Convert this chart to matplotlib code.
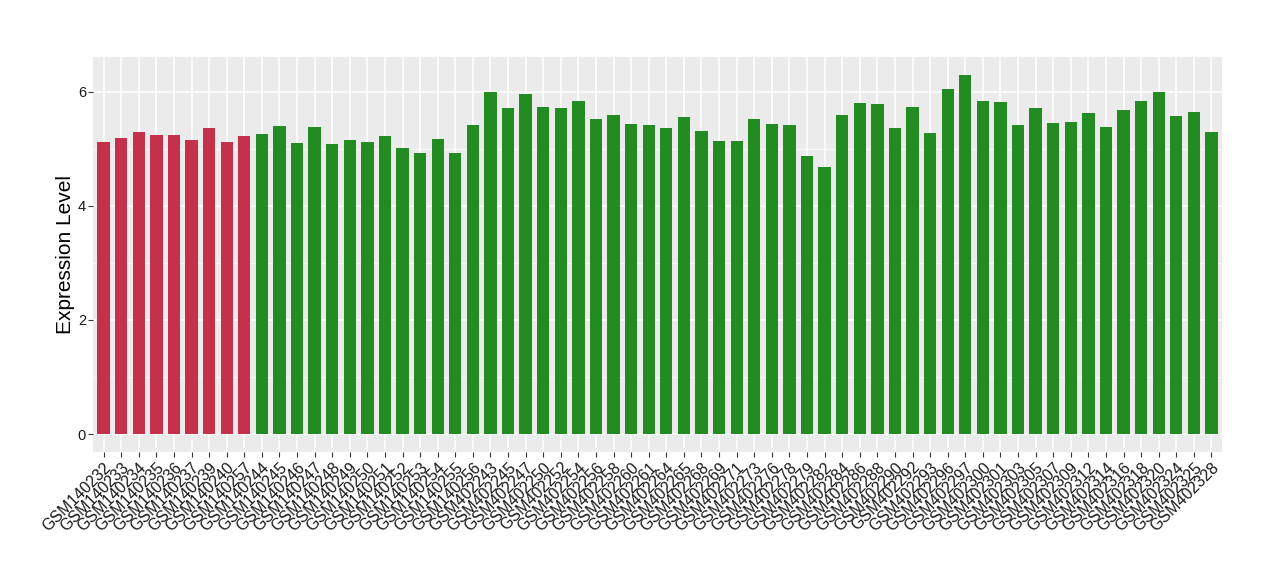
import matplotlib
matplotlib.use("Agg")
import matplotlib.pyplot as plt
from matplotlib.ticker import MultipleLocator

# samples (first 9 are one group, the rest another)
samples = ["GSM140232", "GSM140233", "GSM140234", "GSM140235", "GSM140236",
           "GSM140237", "GSM140239", "GSM140240", "GSM140257",
           "GSM140244", "GSM140245", "GSM140246", "GSM140247", "GSM140248",
           "GSM140249", "GSM140250", "GSM140251", "GSM140252", "GSM140253",
           "GSM140254", "GSM140255", "GSM140256",
           "GSM402243", "GSM402245", "GSM402247", "GSM402250", "GSM402252",
           "GSM402254", "GSM402256", "GSM402258", "GSM402260", "GSM402261",
           "GSM402264", "GSM402265", "GSM402268", "GSM402269", "GSM402271",
           "GSM402273", "GSM402276", "GSM402278", "GSM402279", "GSM402282",
           "GSM402284", "GSM402286", "GSM402288", "GSM402290", "GSM402292",
           "GSM402293", "GSM402296", "GSM402297", "GSM402300", "GSM402301",
           "GSM402303", "GSM402305", "GSM402307", "GSM402309", "GSM402312",
           "GSM402314", "GSM402316", "GSM402318", "GSM402320", "GSM402324",
           "GSM402325", "GSM402328"]

expression = [5.11, 5.18, 5.29, 5.23, 5.23, 5.15, 5.36, 5.11, 5.22,
              5.25, 5.40, 5.09, 5.37, 5.08, 5.15, 5.11, 5.22, 5.01, 4.92,
              5.17, 4.92, 5.41,
              5.99, 5.71, 5.96, 5.73, 5.71, 5.84, 5.52, 5.59, 5.43, 5.41,
              5.36, 5.56, 5.31, 5.13, 5.13, 5.52, 5.43, 5.41, 4.87, 4.67,
              5.59, 5.80, 5.78, 5.36, 5.73, 5.27, 6.05, 6.29, 5.84, 5.82,
              5.41, 5.71, 5.45, 5.46, 5.62, 5.38, 5.68, 5.84, 5.99, 5.57,
              5.64, 5.29]

n_group1 = 9
colors = ["#C3324A"] * n_group1 + ["#228B22"] * (len(samples) - n_group1)

fig = plt.figure(figsize=(12.8, 5.8), dpi=100)
ax = fig.add_axes([0.0727, 0.2207, 0.882, 0.681])

x = list(range(1, len(samples) + 1))
ax.bar(x, expression, width=0.7, color=colors, zorder=3)

ax.set_facecolor("#EBEBEB")
ax.set_xlim(0.4, len(samples) + 0.6)
ymax = max(expression)
ax.set_ylim(-0.05 * ymax, 1.05 * ymax)

ax.yaxis.set_major_locator(MultipleLocator(2))
ax.yaxis.set_minor_locator(MultipleLocator(1))
ax.grid(which="major", color="white", linewidth=1.1, zorder=0)
ax.grid(which="minor", axis="y", color="white", linewidth=0.5, zorder=0)
for s in ax.spines.values():
    s.set_visible(False)

ax.set_xticks(x)
ax.set_xticklabels(samples, rotation=45, ha="right", va="top",
                   rotation_mode="anchor", fontsize=11.5,
                   family="Liberation Sans", color="#1a1a1a")
ax.tick_params(axis="x", length=3.5, color="#333333", pad=2)
ax.tick_params(axis="y", which="major", length=3.5, color="#333333", pad=1.5,
               labelsize=10.5, labelcolor="#1a1a1a")
ax.tick_params(axis="y", which="minor", length=0)
for lab in ax.get_yticklabels():
    lab.set_family("Liberation Sans")

ax.set_ylabel("Expression Level", fontsize=15, family="Liberation Sans",
              labelpad=2)

fig.savefig("out.png", dpi=100)
